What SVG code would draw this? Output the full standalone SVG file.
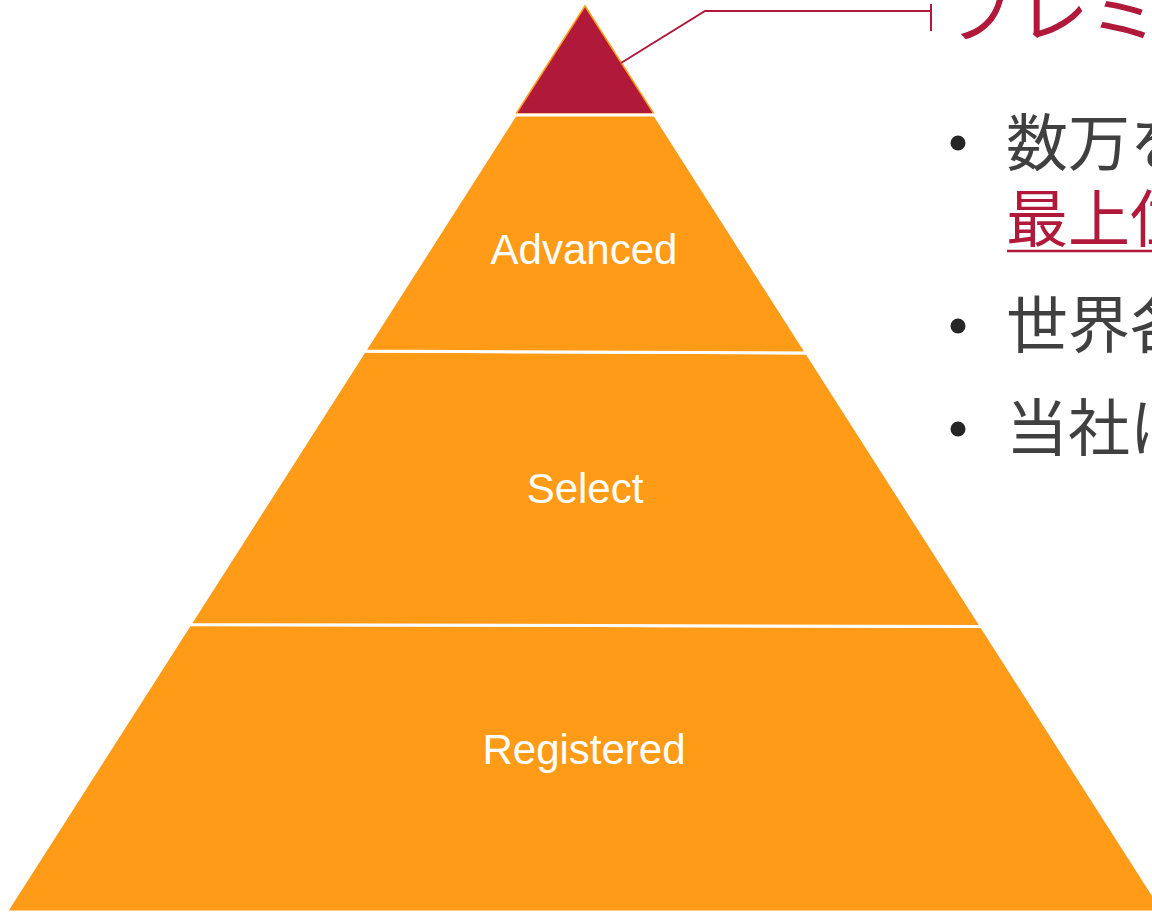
<svg xmlns="http://www.w3.org/2000/svg" width="1152" height="912" viewBox="0 0 1152 912">
<style>
.band{fill:#FF9B17;stroke:#FFFFFF;stroke-width:3;stroke-linejoin:miter}
.lbl{font-family:"Liberation Sans",Arial,sans-serif;font-size:42px;fill:#FFFFFF;text-anchor:middle}
.jp{font-family:"Noto Sans CJK JP","Noto Sans",sans-serif;font-size:62px;fill:#404040}
.red{fill:#B0193A}
.dot{fill:#262626}
</style>
<rect width="1152" height="912" fill="#FFFFFF"/>
<g id="registered">
<polygon class="band" points="189.8,624.5 981.5,626.5 1164,912 6,912"/>
<text class="lbl" x="584" y="764">Registered</text>
</g>
<g id="select">
<polygon class="band" points="364.5,351 806.7,353 981.5,626.5 189.8,624.5"/>
<text class="lbl" x="585" y="503">Select</text>
</g>
<g id="premium">
<polygon points="585,6 516,114 654,114" fill="#B0193A" stroke="#FF9B17" stroke-width="1.5"/>
</g>
<g id="advanced">
<polygon class="band" points="515.3,115 654.7,115 806.7,353 364.5,351"/>
<text class="lbl" x="584" y="264">Advanced</text>
</g>
<g id="connectors">
<polyline points="621,63 705,11 931,11" fill="none" stroke="#B0193A" stroke-width="2"/>
<line x1="931" y1="4" x2="931" y2="31" stroke="#B0193A" stroke-width="2"/>
</g>
<g id="title">
<text x="945" y="36" font-family="'Noto Sans CJK JP','Noto Sans',sans-serif" font-size="72" fill="#B0193A">プレミ</text>
</g>
<g id="bullets">
<circle class="dot" cx="958" cy="143" r="7.5"/>
<text class="jp" x="1006" y="166">数万を</text>
<text class="jp red" x="1006" y="242">最上位</text>
<line x1="1007" y1="251" x2="1152" y2="251" stroke="#B0193A" stroke-width="2.5"/>
<circle class="dot" cx="958" cy="326" r="7.5"/>
<text class="jp" x="1006" y="348">世界各</text>
<circle class="dot" cx="958" cy="429" r="7.5"/>
<text class="jp" x="1006" y="451">当社は</text>
</g>
</svg>
